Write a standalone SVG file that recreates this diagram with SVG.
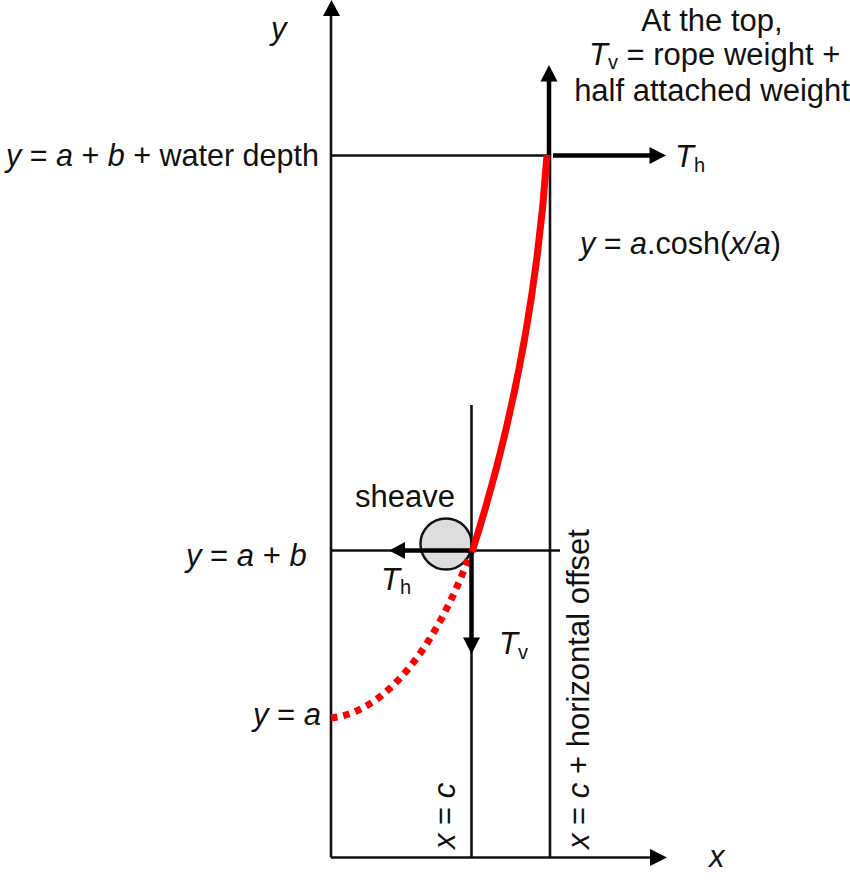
<svg xmlns="http://www.w3.org/2000/svg" width="850" height="893" viewBox="0 0 850 893">
<style>
text{font-family:"Liberation Sans",Arial,sans-serif;font-size:31px;fill:#111}
.i{font-style:italic}
.s{font-size:20px}
.m{text-anchor:middle}
.ln{stroke:#111;stroke-width:2.6;fill:none}
.f{stroke:#000;stroke-width:4.5;fill:none}
.h{fill:#000;stroke:none}
.c{fill:none;stroke:#f00;stroke-width:7}
</style>
<rect width="850" height="893" fill="#fff"/>
<g id="sheave"><circle cx="446" cy="544" r="25.5" fill="#ddd" stroke="#111" stroke-width="2.4"/></g>
<g id="connectors">
<path class="ln" d="M331 857.5V14"/>
<path class="h" d="M331.500 0l8.500 16h-17z"/>
<path class="ln" d="M331 857.500H652"/>
<path class="h" d="M667 857.500l-17-8.500v17z"/>
<path class="ln" d="M331 155.500H550V857.500"/>
<path class="ln" d="M331 550.500H560"/>
<path class="ln" d="M471.500 405V857.500"/>
<path class="c" stroke-dasharray="6.500 6" d="M331 718C385 712 435 650 471 552"/>
<path class="f" d="M549 155V78"/>
<path class="h" d="M549 65l8.500 16.500h-17z"/>
<path class="f" d="M553 155.500H652"/>
<path class="h" d="M666 155.500l-16.500-8.500v17z"/>
<path class="f" d="M471 550.500H402"/>
<path class="h" d="M389 550.500l16-8.500v17z"/>
<path class="f" d="M471.500 552V640"/>
<path class="h" d="M471.500 654l-8.500-16.500h17z"/>
<path class="c" d="M472 552C516 415 538 285 547 155"/>
</g>
<g id="labels">
<text class="i" x="271" y="39">y</text>
<text x="6" y="166" style="font-size:30.5px"><tspan class="i">y</tspan> = <tspan class="i">a</tspan> + <tspan class="i">b</tspan> + water depth</text>
<text x="186" y="566"><tspan class="i">y</tspan> = <tspan class="i">a</tspan> + <tspan class="i">b</tspan></text>
<text x="253" y="725"><tspan class="i">y</tspan> = <tspan class="i">a</tspan></text>
<text class="i" x="709" y="867">x</text>
<text class="m" x="712" y="31">At the top,</text>
<text x="589" y="65"><tspan class="i">T</tspan><tspan class="s" dy="4">v</tspan><tspan dy="-4"> = rope weight +</tspan></text>
<text class="m" x="712" y="101">half attached weight</text>
<text x="675" y="167"><tspan class="i">T</tspan><tspan class="s" dy="5">h</tspan></text>
<text x="580" y="254" style="font-size:30.5px"><tspan class="i">y</tspan> = <tspan class="i">a</tspan>.cosh(<tspan class="i">x/a</tspan>)</text>
<text x="355" y="507">sheave</text>
<text x="381" y="590"><tspan class="i">T</tspan><tspan class="s" dy="4">h</tspan></text>
<text x="499" y="654"><tspan class="i">T</tspan><tspan class="s" dy="5">v</tspan></text>
<text transform="translate(455 849) rotate(-90)"><tspan class="i">x</tspan> = <tspan class="i">c</tspan></text>
<text transform="translate(589 849) rotate(-90)"><tspan class="i">x</tspan> = <tspan class="i">c</tspan> + horizontal offset</text>
</g>
</svg>
